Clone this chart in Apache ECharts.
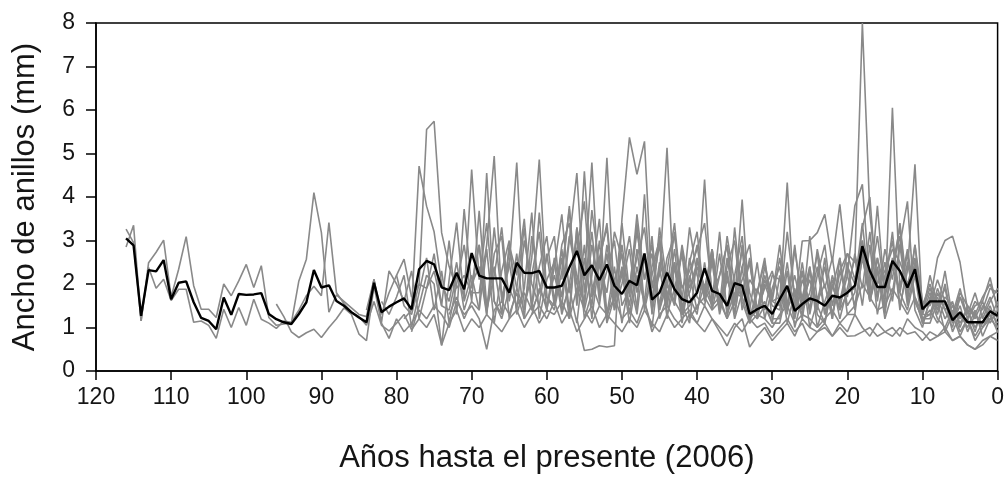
<!DOCTYPE html>
<html>
<head>
<meta charset="utf-8">
<script src="https://cdn.jsdelivr.net/npm/echarts@6/dist/echarts.min.js"></script>
<style>
  html, body { margin: 0; padding: 0; background: #fff; }
  #chart { width: 1007px; height: 479px; }
</style>
</head>
<body>
<div id="chart"></div>
<script>
// Ring widths (mm) per tree, listed from the oldest ring to the present (year 0 = 2006).
// Each row below covers one decade of "years before present" (x9 ... x0).

const meanWidth = [
  3.05, 2.89, 1.27, 2.32, 2.29, 2.55, 1.65,
  2.03, 2.06, 1.58, 1.22, 1.15, 0.96, 1.69, 1.29, 1.77, 1.75,
  1.76, 1.79, 1.31, 1.19, 1.12, 1.08, 1.31, 1.58, 2.32, 1.92,
  1.97, 1.61, 1.50, 1.35, 1.23, 1.12, 2.03, 1.35, 1.48, 1.58,
  1.67, 1.42, 2.34, 2.53, 2.45, 1.92, 1.86, 2.26, 1.88, 2.71,
  2.19, 2.13, 2.13, 2.13, 1.80, 2.49, 2.26, 2.25, 2.30, 1.92,
  1.92, 1.96, 2.38, 2.76, 2.20, 2.43, 2.09, 2.45, 1.96, 1.77,
  2.07, 1.97, 2.70, 1.64, 1.80, 2.26, 1.88, 1.65, 1.58, 1.80,
  2.36, 1.84, 1.77, 1.50, 2.02, 1.96, 1.31, 1.42, 1.50, 1.31,
  1.65, 1.96, 1.38, 1.54, 1.67, 1.61, 1.50, 1.73, 1.69, 1.80,
  1.96, 2.87, 2.30, 1.93, 1.93, 2.53, 2.30, 1.92, 2.34, 1.42,
  1.60, 1.60, 1.60, 1.17, 1.35, 1.12, 1.12, 1.12, 1.37, 1.27
];

const tree01 = [
  3.26, 2.95, 1.15, 2.49, 2.73, 3.01, 1.70,
  2.34, 3.09, 1.96, 1.42, 1.42, 1.23, 2.00, 1.73, 2.07, 2.45,
  1.92, 2.42, 1.23, 1.05, 1.08, 1.10, 2.07, 2.57, 4.10, 3.18,
  1.35, 1.75, 1.60, 1.45, 1.30, 1.25, 2.11, 1.12, 2.30, 2.00,
  1.60, 2.30, 1.20, 1.90, 2.70, 1.50, 3.00, 1.30, 3.72, 1.90,
  2.90, 1.40, 2.20, 3.30, 1.60, 2.70, 1.20, 3.10, 2.00, 1.40,
  2.40, 3.60, 1.80, 2.80, 3.90, 1.70, 2.50, 3.40, 1.60, 2.20,
  3.10, 1.80, 2.60, 1.40, 3.30, 2.00, 1.50, 2.80, 1.70, 1.30,
  2.50, 1.40, 2.20, 2.90, 1.30, 2.40, 1.10, 1.80, 2.60, 1.20,
  1.20, 2.30, 1.00, 1.70, 2.40, 1.30, 1.10, 2.00, 1.40, 2.50,
  1.40, 2.80, 1.60, 2.30, 1.30, 2.60, 1.80, 1.40, 2.20, 1.10,
  1.10, 1.60, 0.90, 1.30, 0.80, 1.20, 0.70, 1.00, 1.30, 0.90
];

const tree02 = [
  2.85, 3.35, 1.15, 2.38, 1.90, 2.11, 1.62,
  1.88, 1.88, 1.12, 1.15, 1.05, 0.75, 1.42, 1.00, 1.46, 1.05,
  1.65, 1.19, 1.10, 0.98, 1.15, 1.12, 1.40, 1.73, 1.95, 1.73,
  3.41, 1.80, 1.55, 1.35, 1.25, 1.05, 1.60, 1.05, 0.92, 1.10,
  1.30, 0.95, 1.20, 1.00, 1.30, 0.60, 1.10, 1.40, 0.90, 1.20,
  1.00, 1.30, 1.10, 0.90, 1.20, 1.40, 1.00, 1.30, 1.50, 1.20,
  1.60, 1.10, 1.40, 0.90, 1.20, 1.50, 1.00, 1.30, 1.10, 0.90,
  1.20, 1.00, 1.40, 1.10, 0.90, 1.30, 1.00, 1.20, 1.40, 1.10,
  0.90, 1.20, 1.00, 0.80, 1.10, 0.90, 1.20, 1.00, 1.10, 0.80,
  1.00, 1.20, 0.90, 1.10, 0.70, 0.90, 1.00, 0.80, 1.10, 0.90,
  1.30, 1.00, 0.80, 1.10, 0.90, 1.00, 0.80, 1.20, 1.00, 0.90,
  0.70, 0.80, 0.90, 0.70, 0.80, 0.60, 0.50, 0.70, 0.80, 0.70
];

const tree03 = [
  1.54, 1.25, 0.90, 0.77, 0.88, 0.96, 0.77,
  1.00, 1.20, 1.45, 1.30, 0.85, 0.70, 1.95, 1.10, 0.75, 1.20,
  0.90, 1.10, 1.40, 1.20, 1.50, 1.30, 1.00, 1.60, 1.30, 1.50,
  1.20, 0.50, 1.40, 1.60, 1.30, 1.80, 1.20, 1.50, 1.10, 1.40,
  1.30, 1.60, 1.20, 1.90, 1.40, 1.10, 1.50, 1.30, 1.70, 1.20,
  1.40, 1.10, 1.60, 0.90, 1.30, 1.50, 1.20, 1.00, 1.30, 1.10,
  1.50, 1.20, 0.90, 0.58, 1.00, 1.20, 0.55, 0.80, 1.00, 0.70,
  0.90, 1.10, 0.80, 1.20, 1.00, 0.90, 1.10, 0.80, 1.00, 0.80,
  0.81, 0.90, 1.00, 0.80, 0.90, 0.80, 1.00, 0.85, 0.90, 0.70,
  0.90, 0.80, 1.00, 0.70, 0.80, 0.60, 0.50, 0.60, 0.80, 0.90
];

const tree04 = [
  1.40, 2.10, 1.30, 1.80, 2.20,
  2.57, 1.70, 2.00, 1.90, 2.30, 1.50, 1.40, 2.20, 1.70, 4.63,
  2.10, 3.40, 1.60, 1.30, 2.90, 2.20, 3.50, 1.50, 2.40, 3.10,
  1.60, 2.80, 1.40, 3.30, 2.10, 4.79, 1.70, 2.30, 3.00, 1.50,
  1.90, 3.20, 2.10, 2.70, 1.40, 2.30, 3.40, 1.60, 3.30, 2.20,
  1.70, 2.80, 1.50, 2.40, 3.00, 1.40, 2.10, 1.80, 2.50, 1.60,
  2.60, 1.50, 2.90, 1.40, 1.80, 2.70, 1.30, 2.20, 1.60, 2.40,
  2.00, 3.40, 1.80, 3.80, 1.70, 2.40, 3.10, 1.60, 2.90, 1.30,
  2.20, 1.50, 1.90, 1.10, 1.70, 1.30, 1.80, 1.20, 1.60, 1.90
];

const tree05 = [
  1.60, 1.30, 1.70,
  2.20, 1.00, 1.80, 2.60, 1.40, 2.30, 1.10, 2.00, 2.90, 1.60,
  3.68, 1.50, 2.40, 1.30, 2.80, 1.90, 1.40, 2.60, 4.86, 1.70,
  1.40, 2.30, 3.72, 1.50, 2.90, 1.20, 2.60, 3.30, 1.40, 2.00,
  2.80, 1.40, 4.06, 1.30, 2.50, 1.90, 3.20, 1.50, 1.80, 2.40,
  1.80, 2.70, 1.50, 2.20, 1.30, 2.40, 2.91, 1.20, 2.00, 1.50,
  1.40, 2.50, 1.20, 2.10, 1.60, 2.40, 1.30, 1.90, 2.60, 1.50,
  1.80, 3.30, 4.00, 1.70, 2.50, 1.60, 2.90, 1.50, 2.40, 1.20,
  1.30, 1.90, 1.40, 1.60, 1.00, 1.50, 1.20, 1.60, 1.10, 1.40
];

const tree06 = [
  2.20,
  1.50, 1.30, 2.00, 5.55, 5.74, 3.18, 2.40, 1.90, 2.20, 1.80,
  1.80, 2.90, 4.94, 1.60, 2.50, 1.40, 3.00, 2.00, 1.50, 2.70,
  1.50, 2.90, 3.40, 2.00, 1.60, 3.70, 2.40, 1.80, 3.20, 2.60,
  1.80, 3.60, 2.10, 2.90, 1.50, 2.60, 3.10, 1.90, 2.30, 2.80,
  3.40, 1.80, 2.20, 2.90, 1.60, 2.10, 2.50, 1.40, 1.90, 2.30,
  1.60, 4.33, 1.40, 2.50, 1.30, 2.20, 2.90, 1.50, 2.30, 1.70,
  2.70, 1.90, 3.20, 1.60, 2.80, 2.10, 3.40, 1.80, 2.50, 1.40,
  1.90, 1.40, 2.30, 1.20, 1.80, 1.50, 1.30, 1.70, 2.00, 1.50
];

const tree07 = [
  1.20, 1.40, 4.71, 3.79, 3.20, 2.00, 1.60, 2.50, 1.40, 2.00,
  2.40, 1.30, 2.70, 3.10, 1.20, 1.90, 3.30, 1.40, 1.80, 2.60,
  3.10, 1.40, 1.90, 1.10, 2.60, 1.50, 3.00, 1.20, 2.10, 2.70,
  1.30, 2.40, 1.60, 3.10, 1.20, 1.70, 2.50, 1.10, 2.20, 1.40,
  2.00, 1.60, 3.20, 1.30, 1.80, 1.70, 1.20, 1.40, 1.60, 1.10,
  2.20, 1.10, 1.80, 1.30, 2.40, 1.00, 1.60, 2.10, 1.20, 1.90,
  2.60, 1.50, 2.90, 1.30, 2.20, 3.00, 1.40, 2.50, 1.60, 1.20,
  1.40, 1.10, 1.60, 0.90, 1.30, 1.00, 1.40, 0.80, 1.20, 1.30
];

const tree08 = [
  0.90, 1.50, 2.20, 2.00, 0.58, 2.10, 3.41, 1.60, 2.20,
  1.40, 2.80, 1.10, 2.30, 3.00, 1.30, 1.90, 3.64, 1.20, 2.10,
  2.50, 1.30, 2.00, 3.10, 1.20, 1.80, 2.60, 1.10, 1.70, 2.30,
  1.10, 2.20, 1.60, 1.00, 2.40, 1.30, 1.90, 2.70, 1.20, 1.50,
  1.70, 1.40, 1.60, 1.20, 3.30, 1.60, 1.10, 1.30, 1.20, 1.00,
  1.30, 1.50, 1.10, 1.30, 1.20, 1.00, 1.20, 1.40, 1.10, 1.30,
  1.50, 2.00, 1.70, 1.40, 1.50, 1.90, 1.60, 1.30, 1.70, 1.10,
  1.60, 2.60, 3.00, 3.10, 2.50, 1.40, 1.30, 1.10, 1.20, 1.00
];

const tree09 = [
  1.30, 1.70, 1.20, 1.60,
  1.40, 4.55, 1.60, 1.20, 1.90, 1.50, 1.80, 1.40, 3.64, 1.70,
  1.50, 2.60, 1.20, 3.30, 1.40, 2.20, 3.50, 1.30, 2.40, 1.10,
  2.10, 1.30, 2.70, 1.60, 3.10, 1.20, 2.40, 1.50, 1.10, 2.60,
  1.90, 1.50, 1.70, 1.20, 1.60, 3.94, 1.40, 1.20, 1.50, 1.10,
  1.10, 1.90, 1.30, 2.30, 1.00, 1.60, 2.00, 1.20, 2.60, 1.30,
  1.30, 2.70, 1.60, 2.40, 1.20, 1.80, 2.90, 3.90, 1.40, 1.00,
  1.70, 1.20, 1.00, 1.40, 0.90, 1.20, 0.80, 1.10, 1.50, 1.00
];

const tree10 = [
  2.00,
  2.90, 1.30, 3.30, 1.70, 2.40, 4.79, 1.50, 2.20, 3.20, 1.40,
  2.60, 1.70, 3.10, 2.20, 1.50, 2.90, 1.80, 4.90, 1.60, 2.40,
  1.50, 2.80, 1.40, 2.20, 3.00, 1.70, 2.50, 1.30, 2.10, 2.90,
  1.70, 2.60, 1.40, 2.30, 1.20, 1.80, 2.50, 1.30, 2.10, 1.60,
  1.70, 1.90, 1.50, 2.99, 3.00, 3.18, 3.60, 2.50, 3.83, 2.20,
  1.50, 2.60, 1.70, 2.30, 1.40, 2.40, 1.80, 2.70, 1.60, 1.20,
  1.20, 1.80, 1.40, 1.00, 1.70, 1.20, 1.50, 1.60, 2.15, 1.40
];

const tree11 = [
  1.30, 1.90, 1.50,
  2.20, 1.50, 3.00, 4.55, 1.80, 3.20, 1.60, 2.70, 1.40, 2.90,
  1.70, 3.40, 1.50, 2.40, 3.00, 1.60, 2.80, 1.30, 2.50, 3.20,
  1.60, 2.80, 1.40, 2.60, 1.50, 2.90, 1.80, 1.30, 2.40, 1.70,
  2.90, 1.50, 2.20, 1.40, 3.10, 1.60, 2.40, 1.30, 2.00, 2.70,
  2.50, 8.00, 3.60, 2.00, 2.30, 2.80, 2.50, 2.00, 2.60, 1.50,
  2.00, 1.40, 1.70, 1.50, 1.10, 1.40, 1.00, 1.30, 1.70, 1.20
];

const tree12 = [
  2.10, 3.79, 1.60, 4.59, 2.00, 1.50, 2.90, 1.70, 3.40,
  1.80, 2.60, 3.30, 1.70, 2.20, 5.13, 1.60, 2.90, 1.90, 2.50,
  1.90, 2.80, 1.50, 3.10, 2.00, 1.70, 2.60, 1.40, 2.20, 1.60,
  1.50, 3.20, 1.70, 2.30, 1.40, 2.80, 1.90, 2.60, 1.50, 2.20,
  3.80, 4.29, 2.00, 3.10, 1.80, 2.40, 3.30, 1.70, 2.90, 1.60,
  1.50, 2.10, 1.60, 1.30, 1.90, 1.20, 1.60, 1.40, 1.90, 1.80
];

const tree13 = [
  1.20, 0.47, 0.50, 0.58, 0.55, 0.58, 3.49,
  5.37, 4.52, 5.28, 1.90, 2.90, 1.50, 2.40, 1.30, 2.60, 1.70,
  1.50, 2.50, 1.30, 2.10, 1.60, 2.80, 1.20, 1.90, 1.40, 2.20,
  2.10, 1.40, 1.90, 1.20, 2.30, 1.50, 1.10, 2.00, 1.40, 1.80,
  1.90, 3.00, 1.60, 2.60, 1.50, 6.05, 1.90, 2.80, 1.70, 1.30,
  1.80, 1.30, 2.00, 1.10, 1.50, 0.90, 1.30, 1.00, 1.20, 1.60
];

const tree14 = [
  1.40, 2.00, 1.60, 1.30, 1.50, 1.80,
  4.40, 1.50, 2.70, 1.30, 2.20, 3.10, 1.40, 2.50, 1.20, 1.90,
  2.40, 1.30, 2.80, 1.60, 2.10, 1.40, 2.60, 1.20, 2.30, 2.70,
  2.10, 3.00, 1.70, 2.60, 1.90, 3.20, 1.50, 2.30, 4.75, 1.30,
  1.30, 1.70, 1.20, 1.50, 1.20, 1.40, 0.90, 1.50, 1.40, 1.10
];

const trees = [tree01, tree02, tree03, tree04, tree05, tree06, tree07,
               tree08, tree09, tree10, tree11, tree12, tree13, tree14];

const xTickValues = [120, 110, 100, 90, 80, 70, 60, 50, 40, 30, 20, 10, 0];
const yTickValues = [0, 1, 2, 3, 4, 5, 6, 7, 8];
const xTitle = 'Años hasta el presente (2006)';
const yTitle = 'Ancho de anillos (mm)';

// Every record ends with the 2006 ring (year 0), so the first value sits at length - 1.
function toPoints(values) {
  const first = values.length - 1;
  return values.map((v, i) => [first - i, v]);
}

const font = '"Liberation Sans", Arial, sans-serif';
const ink = '#151515';

const chart = echarts.init(document.getElementById('chart'), null, { renderer: 'canvas' });

const series = trees.map(t => ({
  type: 'line',
  data: toPoints(t),
  symbol: 'none',
  silent: true,
  z: 2,
  lineStyle: { color: '#898989', width: 1.6 }
}));
series.push({
  type: 'line',
  data: toPoints(meanWidth),
  symbol: 'none',
  silent: true,
  z: 3,
  lineStyle: { color: '#000', width: 2.4 }
});

chart.setOption({
  animation: false,
  backgroundColor: '#fff',
  grid: {
    left: 96, right: 9, top: 23, bottom: 107,
    show: true, borderColor: '#000', borderWidth: 1.5
  },
  xAxis: {
    type: 'value',
    inverse: true,
    min: Math.min(...xTickValues),
    max: Math.max(...xTickValues),
    interval: 10,
    name: xTitle,
    nameLocation: 'middle',
    nameGap: 72,
    nameTextStyle: { fontSize: 31, color: ink, fontFamily: font },
    axisLine: { onZero: false, lineStyle: { color: '#000', width: 1.5 } },
    axisTick: { show: true, length: 9, lineStyle: { color: '#000', width: 1.5 } },
    axisLabel: { fontSize: 23, color: ink, fontFamily: font, margin: 15 },
    splitLine: { show: false }
  },
  yAxis: {
    type: 'value',
    min: Math.min(...yTickValues),
    max: Math.max(...yTickValues),
    interval: 1,
    name: yTitle,
    nameLocation: 'middle',
    nameGap: 55,
    nameTextStyle: { fontSize: 31, color: ink, fontFamily: font },
    axisLine: { show: true, onZero: false, lineStyle: { color: '#000', width: 1.5 } },
    axisTick: { show: true, length: 10, lineStyle: { color: '#000', width: 1.5 } },
    axisLabel: { fontSize: 23, color: ink, fontFamily: font, margin: 21 },
    splitLine: { show: false }
  },
  series: series
});
</script>
</body>
</html>
